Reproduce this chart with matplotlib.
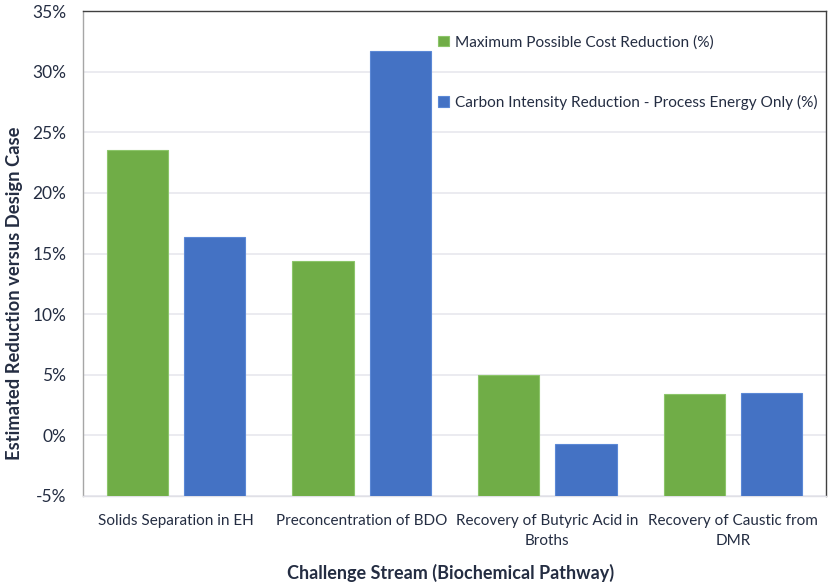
import matplotlib
matplotlib.use("Agg")
import matplotlib.pyplot as plt
import numpy as np
from matplotlib.ticker import PercentFormatter, MultipleLocator

categories = ["Solids Separation in EH", "Preconcentration of BDO",
              "Recovery of Butyric Acid in\nBroths", "Recovery of Caustic from\nDMR"]
cost_reduction = [23.5, 14.4, 5.0, 3.4]
carbon_reduction = [16.4, 31.7, -0.7, 3.5]
series_names = ["Maximum Possible Cost Reduction (%)",
                "Carbon Intensity Reduction - Process Energy Only (%)"]
colors = ["#70AD47", "#4472C4"]
edge_colors = ["#8cc56a", "#5b88d6"]
y_min, y_max = -5, 35

txt = "#242d42"
plt.rcParams['font.family'] = ['Lato', 'DejaVu Sans']
plt.rcParams['axes.unicode_minus'] = False

W, H = 829, 587
fig = plt.figure(figsize=(W/100, H/100), dpi=100)
ax = fig.add_axes([83/W, 1-496/H, (826-83)/W, (496-11)/H])

x = np.arange(len(categories))
w = 0.33
off = 0.208
for i, (vals, c, ec, name) in enumerate(zip([cost_reduction, carbon_reduction], colors, edge_colors, series_names)):
    vals = np.array(vals)
    ax.bar(x + (i*2-1)*off, vals - y_min, width=w, bottom=y_min, color=c,
           edgecolor=ec, linewidth=0.8, label=name, zorder=3)

ax.set_xlim(-0.5, len(categories)-0.5)
ax.set_ylim(y_min, y_max)
ax.yaxis.set_major_locator(MultipleLocator(5))
ax.yaxis.set_major_formatter(PercentFormatter(decimals=0))
ax.set_xticks(x)
ax.set_xticklabels(categories, fontsize=11, color=txt, linespacing=1.55)
ax.tick_params(axis='x', length=0, pad=13)
ax.tick_params(axis='y', length=0, pad=12, labelsize=12.5, labelcolor=txt)
ax.grid(axis='y', color='#e8e8ee', linewidth=1.2, zorder=0)

ax.spines['left'].set_color('#a6a6a6')
ax.spines['bottom'].set_color('#e0e0e6')
ax.spines['top'].set_color('#404040')
ax.spines['right'].set_color('#404040')
for s in ax.spines.values():
    s.set_linewidth(1.0)

fig.text(15/W, 1-293/H, "Estimated Reduction versus Design Case", fontsize=13.2,
         fontweight='bold', color=txt, rotation=90, ha='center', va='center')
fig.text(451/W, 1-573/H, "Challenge Stream (Biochemical Pathway)", fontsize=13,
         fontweight='bold', color=txt, ha='center', va='center')

leg = ax.legend(loc='upper left', bbox_to_anchor=((438-83)/743, 1-24/485),
                frameon=False, fontsize=11.1, labelspacing=2.95,
                handlelength=0.7, handleheight=0.7, handletextpad=0.4,
                borderpad=0, borderaxespad=0)
for t in leg.get_texts():
    t.set_color(txt)

fig.savefig("out.png", dpi=100)
